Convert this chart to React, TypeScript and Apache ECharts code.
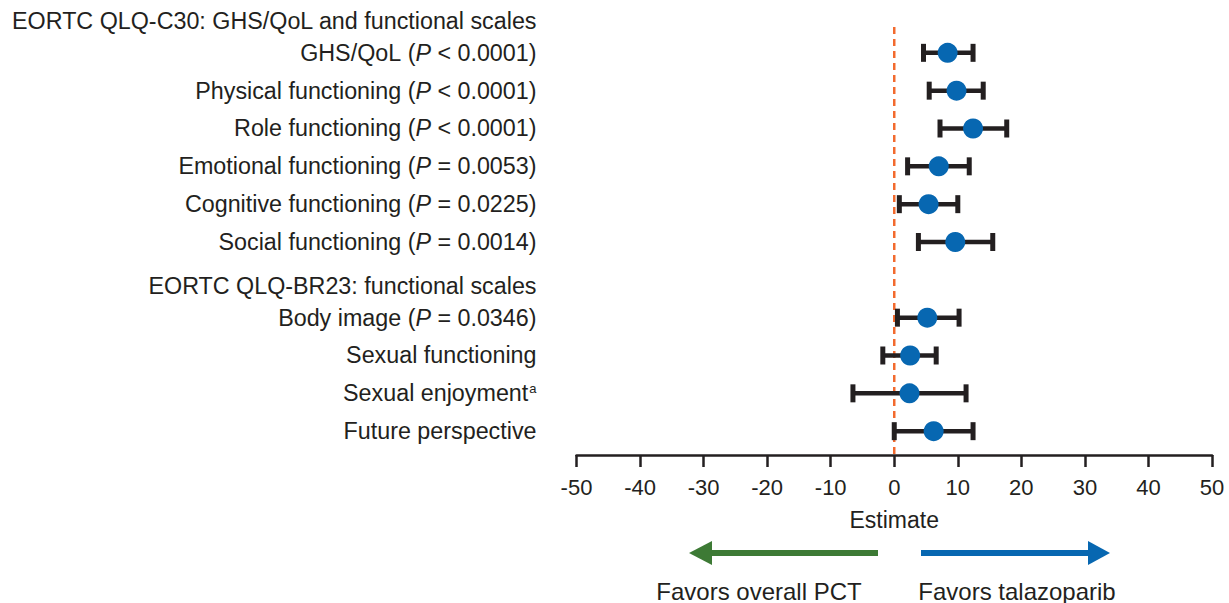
import React, { useEffect, useRef } from "react";
import * as echarts from "echarts";

const rowLabels = [
  "EORTC QLQ-C30: GHS/QoL and functional scales",
  "GHS/QoL",
  "Physical functioning",
  "Role functioning",
  "Emotional functioning",
  "Cognitive functioning",
  "Social functioning",
  "EORTC QLQ-BR23: functional scales",
  "Body image",
  "Sexual functioning",
  "Sexual enjoyment",
  "Future perspective",
];
const isHeader = [true, false, false, false, false, false, false, true, false, false, false, false];
const pValues = ["", "< 0.0001", "< 0.0001", "< 0.0001", "= 0.0053", "= 0.0225", "= 0.0014", "", "= 0.0346", "", "", ""];
const footnotes = ["", "", "", "", "", "", "", "", "", "", "a", ""];
const estimates = [null, 8.4, 9.8, 12.4, 7.0, 5.4, 9.6, null, 5.2, 2.5, 2.4, 6.2];
const lowerCI = [null, 4.6, 5.5, 7.2, 2.1, 0.8, 3.8, null, 0.5, -1.8, -6.5, 0.0];
const upperCI = [null, 12.4, 14.0, 17.7, 11.8, 10.0, 15.5, null, 10.2, 6.6, 11.3, 12.4];

const xMin = -50;
const xMax = 50;
const xInterval = 10;
const yMax = 11.63;
const refLineValue = 0;
const refLineTop = 0.32;

const TEXT = "#231f20";
const FONT = "Liberation Sans, Arial, Helvetica, sans-serif";

export default function App() {
  const ref = useRef<HTMLDivElement>(null);
  useEffect(() => {
    if (!ref.current) return;
    const chart = echarts.init(ref.current, undefined, { renderer: "svg" });

    const errData: any[] = [];
    const ptData: any[] = [];
    estimates.forEach((e, i) => {
      if (e === null) return;
      errData.push([lowerCI[i], upperCI[i], i]);
      ptData.push([e, i]);
    });

    const option: any = {
      animation: false,
      backgroundColor: "#ffffff",
      textStyle: { fontFamily: FONT },
      grid: { left: 576.5, right: 17, top: 15, bottom: 148, containLabel: false },
      xAxis: {
        type: "value",
        position: "bottom",
        min: xMin,
        max: xMax,
        interval: xInterval,
        splitLine: { show: false },
        axisLine: { show: true, onZero: false, lineStyle: { color: TEXT, width: 2.5 } },
        axisTick: { show: true, length: 12, lineStyle: { color: TEXT, width: 2.5 } },
        axisLabel: { color: TEXT, fontSize: 22, fontFamily: FONT, margin: 21 },
        name: "Estimate",
        nameLocation: "middle",
        nameGap: 53,
        nameTextStyle: { color: TEXT, fontSize: 23, fontFamily: FONT },
      },
      yAxis: {
        type: "value",
        inverse: true,
        min: 0,
        max: yMax,
        interval: 1,
        splitLine: { show: false },
        axisLine: { show: false },
        axisTick: { show: false },
        axisLabel: {
          margin: 40,
          showMaxLabel: false,
          formatter: (v: number) => {
            if (!Number.isInteger(v) || v < 0 || v >= rowLabels.length) return "";
            const name = rowLabels[v];
            if (isHeader[v]) return `{h|${name}}`;
            let s = `{t|${name}}`;
            if (footnotes[v]) s += `{s|${footnotes[v]}}`;
            if (pValues[v]) s += `{t| (}{i|P}{t| ${pValues[v]})}`;
            return s;
          },
          rich: {
            t: { fontSize: 23.3, color: TEXT, fontFamily: FONT },
            i: { fontSize: 23.3, color: TEXT, fontFamily: FONT, fontStyle: "italic" },
            h: { fontSize: 23.3, color: TEXT, fontFamily: FONT, padding: [12, 0, 0, 0] },
            s: { fontSize: 13, color: TEXT, fontFamily: FONT, padding: [0, 0, 10, 1] },
          },
        },
      },
      series: [
        {
          type: "line",
          data: [
            [refLineValue, refLineTop],
            [refLineValue, yMax],
          ],
          symbol: "none",
          lineStyle: { color: "#f26a2e", width: 2.5, type: [7, 5] },
          z: 1,
        },
        {
          type: "custom",
          data: errData,
          encode: { x: [0, 1], y: 2 },
          z: 2,
          renderItem: (params: any, api: any) => {
            const idx = api.value(2);
            const p1 = api.coord([api.value(0), idx]);
            const p2 = api.coord([api.value(1), idx]);
            const capH = 9;
            const style = { stroke: TEXT, lineWidth: 4.5 };
            return {
              type: "group",
              children: [
                { type: "line", shape: { x1: p1[0], y1: p1[1], x2: p2[0], y2: p2[1] }, style },
                { type: "line", shape: { x1: p1[0], y1: p1[1] - capH, x2: p1[0], y2: p1[1] + capH }, style: { stroke: TEXT, lineWidth: 5 } },
                { type: "line", shape: { x1: p2[0], y1: p2[1] - capH, x2: p2[0], y2: p2[1] + capH }, style: { stroke: TEXT, lineWidth: 5 } },
              ],
            };
          },
        },
        {
          type: "scatter",
          data: ptData,
          symbol: "circle",
          symbolSize: 20,
          itemStyle: { color: "#0767b1", opacity: 1 },
          z: 3,
        },
      ],
      graphic: [
        { type: "line", shape: { x1: 878, y1: 553, x2: 708, y2: 553 }, style: { stroke: "#3d7a35", lineWidth: 6 } },
        { type: "polygon", shape: { points: [[689, 553], [712, 541], [712, 565]] }, style: { fill: "#3d7a35" } },
        { type: "line", shape: { x1: 921, y1: 553, x2: 1092, y2: 553 }, style: { stroke: "#0767b1", lineWidth: 6 } },
        { type: "polygon", shape: { points: [[1110, 553], [1088, 541], [1088, 565]] }, style: { fill: "#0767b1" } },
        {
          type: "text",
          x: 759,
          y: 591,
          style: { text: "Favors overall PCT", fontSize: 24, fill: TEXT, fontFamily: FONT, align: "center", verticalAlign: "middle" },
        },
        {
          type: "text",
          x: 1017,
          y: 591,
          style: { text: "Favors talazoparib", fontSize: 24, fill: TEXT, fontFamily: FONT, align: "center", verticalAlign: "middle" },
        },
      ],
    };
    chart.setOption(option);
    return () => chart.dispose();
  }, []);
  return (
    <div
      ref={ref}
      style={{ position: "fixed", left: 0, top: 0, width: 1229, height: 603, background: "#fff" }}
    />
  );
}
